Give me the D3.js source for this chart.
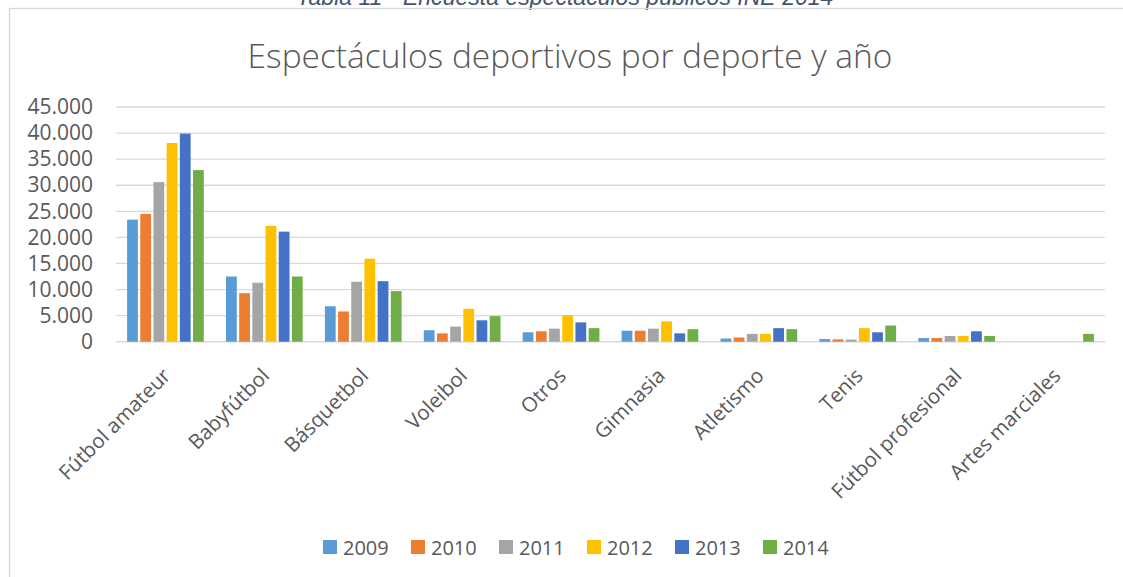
<!DOCTYPE html>
<html>
<head>
<meta charset="utf-8">
<script src="https://cdn.jsdelivr.net/npm/d3@7"></script>
<style>
  html, body { margin: 0; padding: 0; background: #fff; overflow: hidden; }
  text { font-family: "Open Sans", "Noto Sans", sans-serif; }
</style>
</head>
<body>
<svg id="chart" width="1123" height="577"></svg>
<script>
// Sports shows by sport and year (INE survey)
const categories = ["Fútbol amateur", "Babyfútbol", "Básquetbol", "Voleibol", "Otros",
                    "Gimnasia", "Atletismo", "Tenis", "Fútbol profesional", "Artes marciales"];
const years = ["2009", "2010", "2011", "2012", "2013", "2014"];
const v2009 = [23400, 12500, 6800, 2200, 1800, 2100, 600, 500, 700, 0];
const v2010 = [24500, 9300, 5800, 1600, 2000, 2100, 800, 450, 700, 0];
const v2011 = [30600, 11300, 11500, 2900, 2500, 2500, 1500, 400, 1100, 0];
const v2012 = [38100, 22200, 15900, 6300, 5100, 3900, 1500, 2600, 1100, 0];
const v2013 = [39900, 21100, 11600, 4100, 3700, 1600, 2600, 1800, 2000, 0];
const v2014 = [32900, 12500, 9700, 4900, 2600, 2400, 2400, 3100, 1100, 1500];
const yTicks = [0, 5000, 10000, 15000, 20000, 25000, 30000, 35000, 40000, 45000];
const colors = ["#5B9BD5", "#ED7D31", "#A5A5A5", "#FFC000", "#4472C4", "#70AD47"];

const series = [v2009, v2010, v2011, v2012, v2013, v2014];
const rows = categories.map((c, i) => ({
  cat: c,
  vals: years.map((y, j) => ({ year: y, value: series[j][i] }))
}));

const svg = d3.select("#chart");
const W = 1123, H = 577;
const plot = { left: 116, right: 1105, top: 107, bottom: 341.7 };
const textCol = "#595959";
const gridCol = "#d9d9d9";

svg.append("rect").attr("width", W).attr("height", H).attr("fill", "#fff");

// shrink/grow a text element's font so it spans a given width
function fitWidth(sel, target) {
  const node = sel.node();
  const fs = parseFloat(sel.attr("font-size"));
  const w = node.getComputedTextLength();
  sel.attr("font-size", (fs * target / w).toFixed(2));
}

// document caption above the chart frame (runs off the page top)
const cap = svg.append("text")
  .attr("x", 565).attr("y", 5)
  .attr("text-anchor", "middle")
  .attr("font-size", 19)
  .attr("font-style", "italic")
  .style("font-family", "'Liberation Sans', Arial, sans-serif")
  .attr("fill", "#44546A")
  .text("Tabla 11 - Encuesta espectáculos públicos INE 2014");
fitWidth(cap, 537);

// chart frame
svg.append("rect")
  .attr("x", 9.5).attr("y", 8.5)
  .attr("width", W + 10).attr("height", H + 10)
  .attr("fill", "none")
  .attr("stroke", gridCol).attr("stroke-width", 1.3);

// title
const title = svg.append("text")
  .attr("x", 570).attr("y", 68)
  .attr("text-anchor", "middle")
  .attr("font-size", 32)
  .attr("font-weight", 300)
  .attr("fill", textCol)
  .text("Espectáculos deportivos por deporte y año");
fitWidth(title, 645);

const esLocale = d3.formatLocale({ decimal: ",", thousands: ".", grouping: [3], currency: ["", " €"] });
const fmt = esLocale.format(",.0f");

const y = d3.scaleLinear().domain([0, 45000]).range([plot.bottom, plot.top]);
const x0 = d3.scaleBand().domain(categories).range([plot.left, plot.right]).padding(0);
const groupW = x0.bandwidth() * 0.8;
const x1 = d3.scaleBand().domain(years).range([0, groupW]).padding(0);

// gridlines
svg.append("g")
  .selectAll("line")
  .data(yTicks)
  .join("line")
  .attr("x1", plot.left).attr("x2", plot.right)
  .attr("y1", d => y(d)).attr("y2", d => y(d))
  .attr("stroke", gridCol)
  .attr("stroke-width", d => d === 0 ? 1.5 : 1.3);

// y axis labels
const yAxis = svg.append("g")
  .attr("transform", `translate(${plot.left},0)`)
  .call(d3.axisLeft(y).tickValues(yTicks).tickFormat(fmt).tickSize(0).tickPadding(23));
yAxis.select(".domain").remove();
yAxis.selectAll("text")
  .attr("font-size", 21)
  .attr("fill", textCol)
  .style("font-family", "'Open Sans', sans-serif");

// bars
const gap = 2.4;
const groups = svg.append("g")
  .selectAll("g")
  .data(rows)
  .join("g")
  .attr("transform", d => `translate(${x0(d.cat) + (x0.bandwidth() - groupW) / 2},0)`);

groups.selectAll("rect")
  .data(d => d.vals.filter(v => v.value > 0))
  .join("rect")
  .attr("x", d => x1(d.year) + gap / 2)
  .attr("width", x1.bandwidth() - gap)
  .attr("y", d => y(d.value))
  .attr("height", d => y(0) - y(d.value))
  .attr("fill", (d) => colors[years.indexOf(d.year)]);

// category labels, rotated
svg.append("g")
  .selectAll("text")
  .data(categories)
  .join("text")
  .attr("text-anchor", "end")
  .attr("transform", d => `translate(${x0(d) + x0.bandwidth() / 2 - 4},${plot.bottom + 25}) rotate(-45)`)
  .attr("dy", "0.71em")
  .attr("font-size", 20.5)
  .attr("fill", textCol)
  .text(d => d);

// legend
const legend = svg.append("g")
  .selectAll("g")
  .data(years)
  .join("g")
  .attr("transform", (d, i) => `translate(${323 + i * 88},540)`);
legend.append("rect")
  .attr("width", 14).attr("height", 14)
  .attr("fill", (d, i) => colors[i]);
legend.append("text")
  .attr("x", 20).attr("y", 14.5)
  .attr("font-size", 20)
  .attr("fill", textCol)
  .text(d => d);
</script>
</body>
</html>
